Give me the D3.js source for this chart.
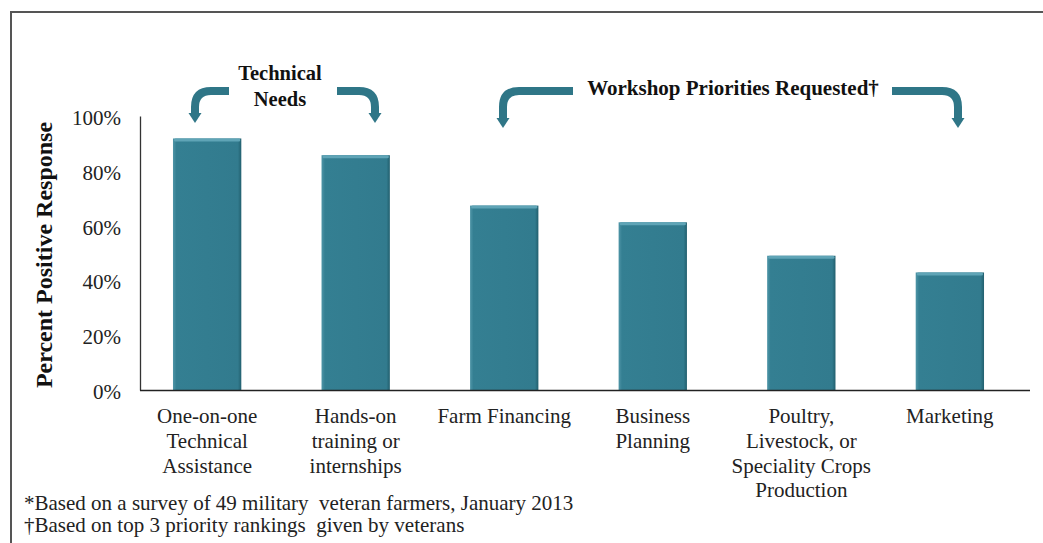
<!DOCTYPE html>
<html><head><meta charset="utf-8">
<script src="https://cdn.jsdelivr.net/npm/d3@7"></script>
<style>body{margin:0;background:#fff}svg{display:block}</style>
</head><body><svg id="c" width="1043" height="543"></svg>
<script>
const categories = [
  ["One-on-one","Technical","Assistance"],
  ["Hands-on","training or","internships"],
  ["Farm Financing"],
  ["Business","Planning"],
  ["Poultry,","Livestock, or","Speciality Crops","Production"],
  ["Marketing"]
];
const values = [0.918, 0.857, 0.673, 0.612, 0.490, 0.429];
const yTicks = [0, 0.2, 0.4, 0.6, 0.8, 1.0];
const yTitle = "Percent Positive Response";
const footnotes = ["*Based on a survey of 49 military  veteran farmers, January 2013", "\u2020Based on top 3 priority rankings  given by veterans"];
const groupLabels = [["Technical","Needs"], ["Workshop Priorities Requested\u2020"]];

(function(){
const svg = d3.select("#c");
const pL = 140, pR = 1017, pT = 116, pB = 390;
const x = d3.scaleBand().domain(d3.range(values.length)).range([pL, pR]).paddingInner(0.54).paddingOuter(0.222);
const y = d3.scaleLinear().domain([0, 1]).range([pB, pT]);

// frame
svg.append("path").attr("d", `M11,543 L11,12 L1043,12`).attr("fill","none").attr("stroke","#555").attr("stroke-width",2);

const defs = svg.append("defs");
const gH = defs.append("linearGradient").attr("id","gh").attr("x1",0).attr("x2",1).attr("y1",0).attr("y2",0);
gH.append("stop").attr("offset","0").attr("stop-color","#4f95a7");
gH.append("stop").attr("offset","0.05").attr("stop-color","#347f92");
gH.append("stop").attr("offset","0.95").attr("stop-color","#327b8e");
gH.append("stop").attr("offset","1").attr("stop-color","#225f6e");

// bars
const bars = svg.append("g");
values.forEach((v, i) => {
  const bx = x(i), bw = x.bandwidth(), by = y(v), bh = y(0) - y(v);
  bars.append("rect").attr("x", bx).attr("y", by).attr("width", bw).attr("height", bh).attr("fill", "url(#gh)");
  bars.append("rect").attr("x", bx + 1).attr("y", by).attr("width", bw - 2).attr("height", 3).attr("fill", "#5fa4b6").attr("rx", 1.5);
});

// axes
const yAxis = d3.axisLeft(y).tickValues(yTicks).tickFormat(d3.format(".0%")).tickSize(0).tickPadding(19);
const ya = svg.append("g").attr("transform", `translate(${pL},0)`).call(yAxis);
ya.select(".domain").attr("stroke", "#333").attr("stroke-width", 1.3);
ya.selectAll("text").style("font-size", "21px").attr("fill", "#222").attr("dy", "0.4em");

const xa = svg.append("g").attr("transform", `translate(0,${pB})`).call(d3.axisBottom(x).tickSize(0).tickFormat(""));
xa.select(".domain").attr("d", `M${pL},0.5H1030`).attr("stroke", "#222").attr("stroke-width", 1.5);

categories.forEach((lines, i) => {
  const cx = x(i) + x.bandwidth() / 2;
  const t = svg.append("text").attr("x", cx).attr("y", 423).attr("text-anchor", "middle").style("font-size", "21px").attr("fill", "#222");
  lines.forEach((l, j) => t.append("tspan").attr("x", cx).attr("dy", j ? 24.8 : 0).text(l));
});

// y title
svg.append("text").attr("transform", `translate(52,${(pT + pB) / 2 + 2}) rotate(-90)`).attr("text-anchor", "middle")
  .style("font-size", "24px").style("font-weight", "bold").attr("fill", "#111").text(yTitle);

// footnotes
footnotes.forEach((f, i) => svg.append("text").attr("x", 24).attr("y", 510 + i * 22).style("font-size", "21px").attr("fill", "#222").style("white-space", "pre").text(f));

// group labels
const tn = svg.append("text").attr("text-anchor", "middle").style("font-size", "20.5px").style("font-weight", "bold").attr("fill", "#111");
groupLabels[0].forEach((l, j) => tn.append("tspan").attr("x", 280).attr("y", 80 + j * 26).text(l));
svg.append("text").attr("x", 733).attr("y", 95).attr("text-anchor", "middle").style("font-size", "21px").style("font-weight", "bold").attr("fill", "#111").text(groupLabels[1][0]);

// bracket arrows
const arrowColor = "#2f7687";
function bracket(xStart, xEnd, yH, tipY) {
  const dir = Math.sign(xEnd - xStart), r = 16;
  const path = `M${xStart},${yH} L${xEnd - dir * r},${yH} Q${xEnd},${yH} ${xEnd},${yH + r} L${xEnd},${tipY - 8}`;
  svg.append("path").attr("d", path).attr("fill", "none").attr("stroke", arrowColor).attr("stroke-width", 8);
  svg.append("path").attr("d", `M${xEnd - 6.5},${tipY - 10} L${xEnd + 6.5},${tipY - 10} L${xEnd},${tipY} Z`).attr("fill", arrowColor);
}
bracket(229, 195, 91, 123);
bracket(337, 375, 91, 123);
bracket(573, 503, 91, 128);
bracket(892, 958, 91, 128);

svg.selectAll("text").style("font-family", "'Liberation Serif'");
svg.selectAll("g").attr("font-family", null);
})();
</script></body></html>
